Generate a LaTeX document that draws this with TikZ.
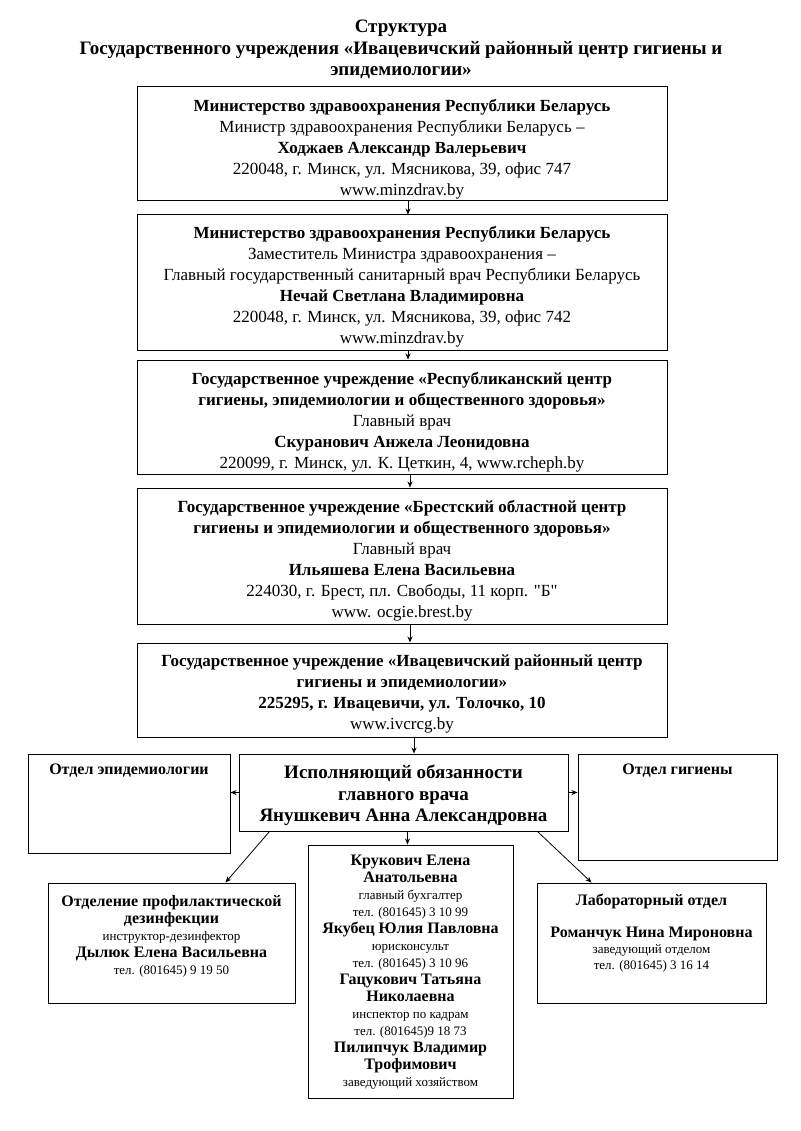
\documentclass[tikz,border=0pt]{standalone}
\usepackage{fontspec}
\setmainfont{Liberation Serif}
\newfontfamily\plainq{Liberation Serif}[Ligatures=TeXOff]
\usetikzlibrary{arrows.meta}
\newcommand{\bd}{\bfseries}
\newcommand{\smf}{\fontsize{13}{17}\selectfont}
\newcommand{\bdf}{\bfseries\fontsize{16}{17}\selectfont}
\newcommand{\sq}{{\plainq\symbol{34}}}
\begin{document}
\begin{tikzpicture}[x=1pt,y=-1pt,
  plain/.style={draw, line width=1pt, inner sep=0pt},
  txt/.style={inner sep=0pt, align=center},
  btxt/.style={inner sep=0pt, align=center, font=\fontsize{17}{21}\selectfont},
  arr/.style={-{Stealth[length=6pt,width=5pt]}, line width=0.8pt}]
\path[use as bounding box, fill=white] (0,0) rectangle (800,1131);

\node[txt, font=\bfseries\fontsize{19}{21.5}\selectfont] (title) at (401,49.5)
 {Структура\\Государственного учреждения «Ивацевичский районный центр гигиены и\\эпидемиологии»};

\node[plain, minimum width=530pt, minimum height=114pt] (b1) at (402,144) {};
\node[btxt] (t1) at (402,149)
 {{\bd Министерство здравоохранения Республики Беларусь}\\
  Министр здравоохранения Республики Беларусь –\\
  {\bd Ходжаев Александр Валерьевич}\\
  220048, г. Минск, ул. Мясникова, 39, офис 747\\
  www.minzdrav.by};

\node[plain, minimum width=530pt, minimum height=135pt] (b2) at (402,282.5) {};
\node[btxt] (t2) at (402,287)
 {{\bd Министерство здравоохранения Республики Беларусь}\\
  Заместитель Министра здравоохранения –\\
  Главный государственный санитарный врач Республики Беларусь\\
  {\bd Нечай Светлана Владимировна}\\
  220048, г. Минск, ул. Мясникова, 39, офис 742\\
  www.minzdrav.by};

\node[plain, minimum width=530pt, minimum height=114pt] (b3) at (402,417) {};
\node[btxt] (t3) at (402,422)
 {{\bd Государственное учреждение «Республиканский центр}\\
  {\bd гигиены, эпидемиологии и общественного здоровья»}\\
  Главный врач\\
  {\bd Скуранович Анжела Леонидовна}\\
  220099, г. Минск, ул. К. Цеткин, 4, www.rcheph.by};

\node[plain, minimum width=530pt, minimum height=136pt] (b4) at (402,556) {};
\node[btxt] (t4) at (402,560.5)
 {{\bd Государственное учреждение «Брестский областной центр}\\
  {\bd гигиены и эпидемиологии и общественного здоровья»}\\
  Главный врач\\
  {\bd Ильяшева Елена Васильевна}\\
  224030, г. Брест, пл. Свободы, 11 корп. \sq Б\sq\\
  www. ocgie.brest.by};

\node[plain, minimum width=530pt, minimum height=94pt] (b5) at (402,690) {};
\node[btxt] (t5) at (402,694)
 {{\bd Государственное учреждение «Ивацевичский районный центр}\\
  {\bd гигиены и эпидемиологии»}\\
  {\bd 225295, г. Ивацевичи, ул. Толочко, 10}\\
  www.ivcrcg.by};

\node[plain, minimum width=329pt, minimum height=77pt] (c) at (403.5,792.5) {};
\node[txt, font=\bfseries\fontsize{19}{21.5}\selectfont] (ct) at (403.5,795.5)
 {Исполняющий обязанности\\главного врача\\Янушкевич Анна Александровна};

\node[plain, minimum width=202pt, minimum height=99pt] (epi) at (129,803.5) {};
\node[txt, font=\bdf] (epit) at (129,771) {Отдел эпидемиологии};

\node[plain, minimum width=199pt, minimum height=106pt] (hyg) at (677.5,807) {};
\node[txt, font=\bdf] (hygt) at (677.5,771) {Отдел гигиены};

\node[plain, minimum width=247pt, minimum height=120pt] (dez) at (171.5,943) {};
\node[txt, font=\smf] (dezt) at (171.5,936)
 {{\bdf Отделение профилактической}\\
  {\bdf дезинфекции}\\
  {\smf инструктор-дезинфектор}\\
  {\bdf Дылюк Елена Васильевна}\\
  {\smf тел. (801645) 9 19 50}};

\node[plain, minimum width=205pt, minimum height=253pt] (mid) at (410.5,971.5) {};
\node[txt, font=\smf] (midt) at (410.5,972.5)
 {{\bdf Крукович Елена}\\
  {\bdf Анатольевна}\\
  {\smf главный бухгалтер}\\
  {\smf тел. (801645) 3 10 99}\\
  {\bdf Якубец Юлия Павловна}\\
  {\smf юрисконсульт}\\
  {\smf тел. (801645) 3 10 96}\\
  {\bdf Гацукович Татьяна}\\
  {\bdf Николаевна}\\
  {\smf инспектор по кадрам}\\
  {\smf тел. (801645)9 18 73}\\
  {\bdf Пилипчук Владимир}\\
  {\bdf Трофимович}\\
  {\smf заведующий хозяйством}};

\node[plain, minimum width=229pt, minimum height=120pt] (lab) at (651.5,943) {};
\node[txt, font=\fontsize{13}{16}\selectfont] (labt) at (651.5,933)
 {{\bdf Лабораторный отдел}\\[16pt]
  {\bdf Романчук Нина Мироновна}\\
  {\smf заведующий отделом}\\
  {\smf тел. (801645) 3 16 14}};

\draw[arr] ([xshift=6pt]b1.south) -- ([xshift=6pt]b2.north);
\draw[arr] ([xshift=6pt]b2.south) -- ([xshift=6pt]b3.north);
\draw[arr] ([xshift=8pt]b3.south) -- ([xshift=8pt]b4.north);
\draw[arr] ([xshift=8pt]b4.south) -- ([xshift=8pt]b5.north);
\draw[arr] ([xshift=12pt]b5.south) -- ([xshift=12pt]b5.south |- c.north);
\draw[arr] (c.west) -- (c.west -| epi.east);
\draw[arr] (c.east) -- (c.east -| hyg.west);
\draw[arr] ([xshift=4pt]c.south) -- ([xshift=4pt]c.south |- mid.north);
\draw[arr] ([xshift=31pt]c.south west) -- ([xshift=-70pt]dez.north east);
\draw[arr] ([xshift=-31pt]c.south east) -- ([xshift=55pt]lab.north west);
\end{tikzpicture}
\end{document}
